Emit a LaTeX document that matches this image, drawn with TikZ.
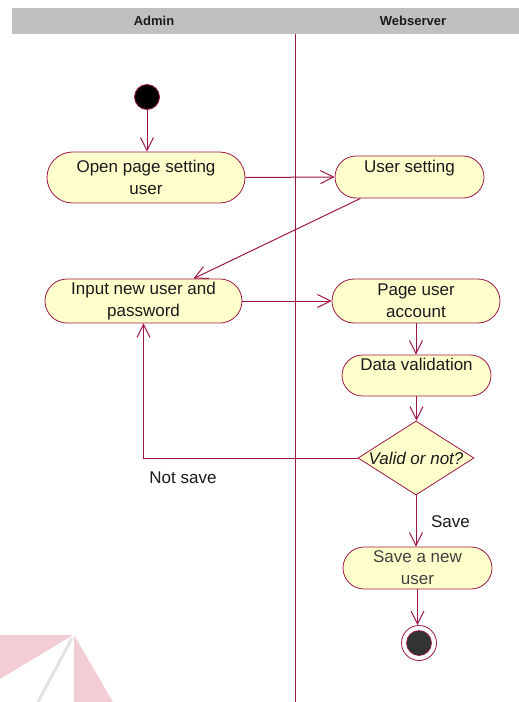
\documentclass[tikz,border=0pt]{standalone}
\usepackage{fontspec}
\setmainfont{Liberation Sans}
\usetikzlibrary{arrows.meta,shapes.geometric,calc}

\definecolor{flow}{RGB}{158,22,72}
\definecolor{actfill}{RGB}{255,255,204}
\definecolor{lanegray}{RGB}{192,192,192}
\definecolor{markpink}{RGB}{242,205,212}
\definecolor{markgray}{RGB}{226,226,226}
\definecolor{ink}{RGB}{26,26,26}

\begin{document}
\begin{tikzpicture}[x=1pt,y=-1pt,
  txt/.style={font=\fontsize{17}{22}\selectfont, text=ink},
  activity/.style={txt, draw=flow, line width=0.8pt, fill=actfill, rectangle,
    rounded corners=#1, inner sep=0pt, align=center},
  decision/.style={txt, draw=flow, line width=0.8pt, fill=actfill, diamond,
    inner sep=0pt, minimum width=116pt, minimum height=74pt},
  flowarrow/.style={draw=flow, line width=1pt,
    -{Straight Barb[length=13pt,width=13pt,line width=1pt]}},
  lanehead/.style={font=\fontsize{13}{15}\selectfont\bfseries, text=ink}
]
\useasboundingbox (0,0) rectangle (519,702);

% faint logo in the lower left corner
\fill[markpink] (0,635) -- (73,635) -- (0,679) -- cycle;
\fill[markpink] (74,635) -- (74,702) -- (113,702) -- cycle;
\draw[markgray, line width=3pt] (72,638) -- (38,702);

% swimlane header and divider
\fill[lanegray] (12,8) rectangle (519,34);
\node[lanehead] (hadmin) at (154,21) {Admin};
\node[lanehead] (hweb) at (413,21) {Webserver};
\coordinate (lanetop) at (295,34);
\coordinate (lanebot) at (295,702);
\draw[flow, line width=1pt] (lanetop) -- (lanebot);

% start and end states
\node[circle, fill=black, draw=flow, line width=0.8pt, minimum size=25pt, inner sep=0pt] (start) at (147,97) {};
\node[circle, fill=white, draw=flow, line width=0.8pt, minimum size=35pt, inner sep=0pt] (stop) at (419,643) {};
\node[circle, fill=black!80, draw=flow, line width=0.6pt, minimum size=25pt, inner sep=0pt] (stopdot) at (stop) {};

% activities
\node[activity=25.5pt, minimum width=198pt, minimum height=51pt] (open) at (146,177.5) {Open page setting\\user};
\node[activity=21pt, minimum width=149pt, minimum height=42pt] (us) at (409.5,177) {User setting\\\mbox{}};
\node[activity=22pt, minimum width=197pt, minimum height=44pt] (inp) at (143.5,301) {Input new user and\\password};
\node[activity=22pt, minimum width=168pt, minimum height=44pt] (pua) at (416,301) {Page user\\account};
\node[activity=20.5pt, minimum width=149pt, minimum height=41pt] (dv) at (416.5,375.5) {Data validation\\\mbox{}};
\node[decision] (dia) at (416,458) {\makebox[0pt]{\itshape Valid or not?}};
\node[activity=21pt, minimum width=149pt, minimum height=42pt, text=black!75] (save) at (417.5,568) {Save a new\\user};

% guard labels
\node[txt] (lblno) at (183,478) {Not save};
\node[txt] (lblsave) at (450.5,522) {Save};

% transitions
\draw[flowarrow] (start.south) -- (start.south |- open.north);
\draw[flowarrow] (open.east) -- (us.west);
\draw[flowarrow] ($(us.south)+(-49,0)$) -- ($(inp.north)+(50,0)$);
\draw[flowarrow] (inp.east) -- (pua.west);
\draw[flowarrow] (pua.south) -- (pua.south |- dv.north);
\draw[flowarrow] (dv.south) -- (dv.south |- dia.north);
\draw[flowarrow] (dia.west) -| (inp.south);
\draw[flowarrow] (dia.south) -- (dia.south |- save.north);
\draw[flowarrow] (save.south) -- (save.south |- stop.north);
\end{tikzpicture}
\end{document}
